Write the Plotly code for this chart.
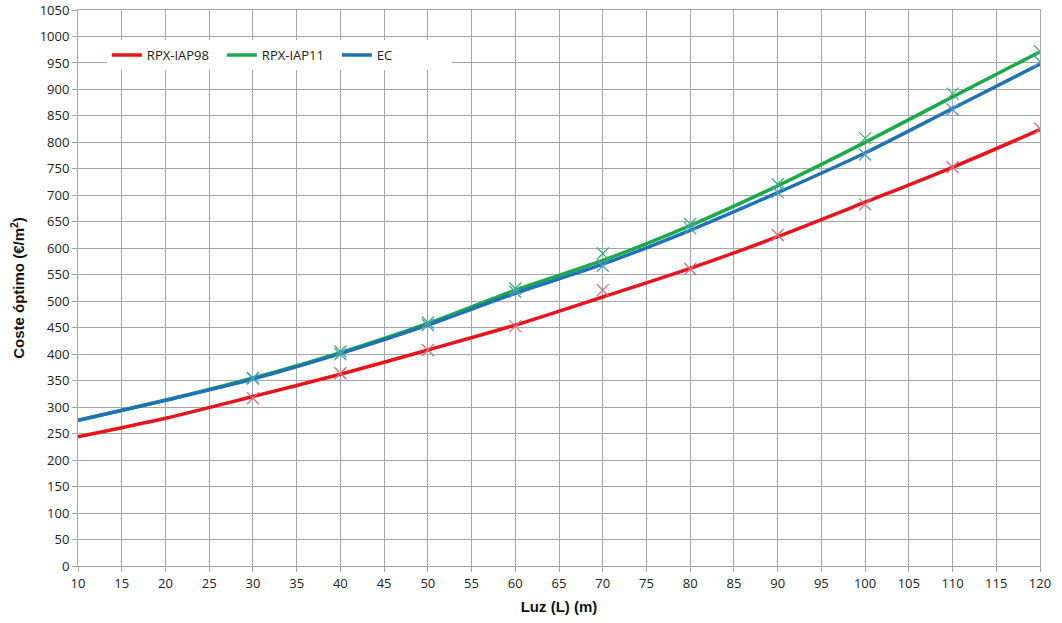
import plotly.graph_objects as go

# Smooth curve support points
x_line = [10, 20, 30, 40, 50, 60, 70, 80, 90, 100, 110, 120]
red_line = [244, 279, 320, 362, 408, 455, 508, 562, 622, 687, 753, 824]
green_line = [275, 313, 355, 403, 458, 521, 577, 643, 718, 800, 886, 971]
blue_line = [275, 313, 353, 401, 455, 515, 570, 634, 705, 780, 864, 948]

# Data points (markers)
x_pts = [30, 40, 50, 60, 70, 80, 90, 100, 110, 120]
red_pts = [317, 364, 408, 453, 521, 561, 625, 683, 753, 826]
green_pts = [355, 405, 460, 524, 590, 646, 721, 808, 892, 972]
blue_pts = [354, 400, 455, 518, 567, 638, 706, 777, 862, 953]

names = ["RPX-IAP98", "RPX-IAP11", "EC"]
line_colors = ["#E8141C", "#1BAA4A", "#1F72B6"]
marker_colors = ["#E06A78", "#3DB07E", "#4A9CC6"]

x_ticks = list(range(10, 121, 5))
y_ticks = list(range(0, 1051, 50))

fig = go.Figure()
for name, ys, col in zip(names, [red_line, green_line, blue_line], line_colors):
    fig.add_trace(go.Scatter(x=x_line, y=ys, mode="lines", name=name,
                             line=dict(color=col, width=3.5, shape="spline", smoothing=0.8)))
for name, ys, col in zip(names, [red_pts, green_pts, blue_pts], marker_colors):
    fig.add_trace(go.Scatter(x=x_pts, y=ys, mode="markers", showlegend=False, name=name,
                             marker=dict(symbol="x-thin", size=12, color=col,
                                         line=dict(color=col, width=1.3))))

axis_common = dict(showgrid=True, gridcolor="#A6A6A6", gridwidth=1,
                   showline=True, linecolor="#A6A6A6", linewidth=1, mirror=True,
                   ticks="outside", ticklen=5, tickcolor="#A6A6A6",
                   tickfont=dict(family="Open Sans, Arial", size=13, color="#222"),
                   zeroline=False, automargin=False)

fig.update_layout(
    width=1062, height=623,
    margin=dict(l=78, r=22, t=10, b=57),
    plot_bgcolor="white", paper_bgcolor="white",
    xaxis=dict(range=[10, 120], tickvals=x_ticks,
               title=dict(text="<b>Luz (L) (m)</b>", font=dict(family="Arial", size=15, color="#111"), standoff=10),
               **axis_common),
    yaxis=dict(range=[0, 1050], tickvals=y_ticks,
               title=dict(text="<b>Coste óptimo (€/m<sup>2</sup>)</b>", font=dict(family="Arial", size=15, color="#111"), standoff=11),
               **axis_common),
    legend=dict(orientation="h", x=0.03, y=0.919, xanchor="left", yanchor="middle",
                bgcolor="white", font=dict(family="Open Sans, Arial", size=13, color="#222"),
                itemwidth=30, tracegroupgap=0, entrywidth=70),
)

fig.write_html("out.html", post_script="document.body.style.margin='0';",
               config={"displayModeBar": False})
